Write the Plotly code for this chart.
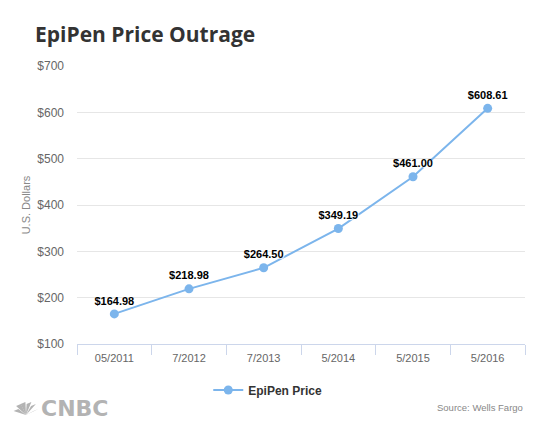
import plotly.graph_objects as go

# EpiPen price by date (Wells Fargo)
dates = ["05/2011", "7/2012", "7/2013", "5/2014", "5/2015", "5/2016"]
prices = [164.98, 218.98, 264.50, 349.19, 461.00, 608.61]
labels = ["$%.2f" % p for p in prices]

# page is drawn with an 8px body margin, so figure coords = screen - 8
OFF = 8
W, H = 553, 434
L, R, T, B = 77 - OFF, 28 + OFF, 66 - OFF, 90 + OFF
PW, PH = W - L - R, H - T - B


def px_x(x):
    # screen pixel -> paper x
    return (x - OFF - L) / PW


def px_y(y):
    # screen pixel -> paper y
    return (H - B - (y - OFF)) / PH


fig = go.Figure()

fig.add_trace(go.Scatter(
    x=dates,
    y=prices,
    mode="lines+markers+text",
    name="EpiPen Price",
    text=labels,
    textposition="top center",
    textfont=dict(family="Liberation Sans, Arial", size=11, color="#000000",
                  weight="bold", shadow="1px 1px 1px #ffffff"),
    line=dict(color="#7cb5ec", width=2),
    marker=dict(color="#7cb5ec", size=9),
    cliponaxis=False,
))

fig.update_layout(
    width=W,
    height=H,
    margin=dict(l=L, r=R, t=T, b=B),
    paper_bgcolor="white",
    plot_bgcolor="white",
    title=dict(
        text="<b>EpiPen Price Outrage</b>",
        x=(35 - OFF) / W, xref="container", xanchor="left",
        y=1 - (35 - OFF) / H, yref="container", yanchor="middle",
        font=dict(family="Open Sans", size=21, color="#333333"),
    ),
    showlegend=True,
    legend=dict(
        orientation="h",
        x=0.293, xanchor="left",
        y=px_y(390), yanchor="middle",
        font=dict(family="Liberation Sans, Arial", size=12, color="#333333", weight="bold"),
        itemwidth=30,
    ),
    font=dict(family="Liberation Sans, Arial", color="#666666"),
)

fig.update_xaxes(
    type="category",
    range=[-0.5, len(dates) - 0.5],
    showgrid=False,
    showline=True,
    linecolor="#ccd6eb",
    linewidth=1,
    ticks="outside",
    tickson="boundaries",
    ticklen=10,
    tickcolor="#ccd6eb",
    ticklabelstandoff=4,
    tickfont=dict(size=11, color="#666666"),
)

fig.update_yaxes(
    range=[100, 700],
    dtick=100,
    tickprefix="$",
    showgrid=True,
    gridcolor="#e6e6e6",
    zeroline=False,
    ticklabelstandoff=12,
    tickfont=dict(size=12, color="#666666"),
    title=dict(text="U.S. Dollars", font=dict(size=11, color="#888888"), standoff=4),
)

# CNBC peacock (small fan of feathers) and wordmark
feathers = [(-1.0, 0.45), (-0.75, 0.9), (-0.3, 1.1), (0.3, 1.1), (0.75, 0.9), (1.0, 0.45)]
cx, cy = 26, 415
for dx, dy in feathers:
    tx, ty = cx + dx * 10, cy - dy * 11
    fig.add_shape(
        type="path", xref="paper", yref="paper",
        path="M %f,%f L %f,%f L %f,%f Z" % (
            px_x(cx), px_y(cy),
            px_x(tx - 2.4), px_y(ty + 1),
            px_x(tx + 2.4), px_y(ty - 1),
        ),
        fillcolor="#b3b3b3", line=dict(width=0),
    )
fig.add_annotation(
    text="<b>CNBC</b>", xref="paper", yref="paper",
    x=px_x(39), y=px_y(409), xanchor="left", yanchor="middle",
    showarrow=False,
    font=dict(family="DejaVu Sans", size=22, color="#b3b3b3"),
)
fig.add_annotation(
    text="Source: Wells Fargo", xref="paper", yref="paper",
    x=1, y=px_y(407), xanchor="right", yanchor="middle",
    showarrow=False,
    font=dict(size=9.5, color="#888888"),
)

fig.write_html("out.html")
